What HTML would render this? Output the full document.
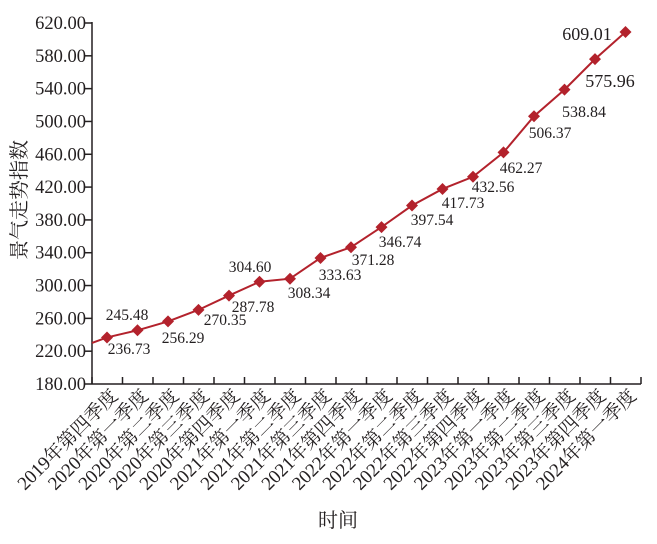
<!DOCTYPE html>
<html><head><meta charset="utf-8"><style>
html,body{margin:0;padding:0;background:#fff;}
svg text{font-family:"Liberation Serif","Noto Serif CJK SC","Noto Sans CJK SC",serif;fill:#231f20;}
</style></head><body>
<svg width="657" height="539" viewBox="0 0 657 539" xmlns="http://www.w3.org/2000/svg">
<g id="axes" stroke="#231f20" stroke-width="1.5" fill="none">
<line x1="92" y1="22" x2="92" y2="384"/>
<line x1="92" y1="384" x2="641" y2="384"/>
</g>
<g id="yt"></g>
<g id="xt"></g>
<g id="series"></g>
<g id="labels" font-size="15"></g>
<text x="0" y="0" font-size="20" text-anchor="middle" transform="translate(26,200) rotate(-90)">景气走势指数</text>
<text x="338" y="527" font-size="20" text-anchor="middle">时间</text>
<script>
var ns="http://www.w3.org/2000/svg";
function el(p,t,a,txt){var e=document.createElementNS(ns,t);for(var k in a)e.setAttribute(k,a[k]);if(txt!==undefined)e.textContent=txt;p.appendChild(e);return e;}
var Y=function(v){return 384-(v-180)*361/440;};
var yt=document.getElementById('yt');
for(var v=180;v<=620;v+=40){var y=Y(v);el(yt,'line',{x1:85,y1:y,x2:92,y2:y,stroke:'#231f20','stroke-width':1.5});
el(yt,'text',{x:86,y:y+6,'font-size':18.5,'text-anchor':'end'},v.toFixed(2));}
var cats=["2019年第四季度","2020年第一季度","2020年第二季度","2020年第三季度","2020年第四季度","2021年第一季度","2021年第二季度","2021年第三季度","2021年第四季度","2022年第一季度","2022年第二季度","2022年第三季度","2022年第四季度","2023年第一季度","2023年第二季度","2023年第三季度","2023年第四季度","2024年第一季度"];
var vals=[236.73,245.48,256.29,270.35,287.78,304.60,308.34,333.63,346.74,371.28,397.54,417.73,432.56,462.27,506.37,538.84,575.96,609.01];
var xt=document.getElementById('xt');
var X=function(i){return 107+i*30.5;};
for(var i=0;i<=18;i++){var x=92+i*30.5;el(xt,'line',{x1:x,y1:377,x2:x,y2:384,stroke:'#231f20','stroke-width':1.5});}
for(var i=0;i<18;i++){el(xt,'text',{x:0,y:0,'font-size':19,'text-anchor':'end',transform:'translate('+(X(i)+12)+',397) rotate(-45)'},cats[i]);}
var s=document.getElementById('series');
var pts="92,"+Y(230)+" ";for(var i=0;i<18;i++)pts+=X(i)+","+Y(vals[i])+" ";
el(s,'polyline',{points:pts,fill:'none',stroke:'#b3222c','stroke-width':2});
for(var i=0;i<18;i++){var x=X(i),y=Y(vals[i]);el(s,'polygon',{points:(x-6)+','+y+' '+x+','+(y-6)+' '+(x+6)+','+y+' '+x+','+(y+6),fill:'#b3222c'});}
var L=[["245.48",127,320,15.5],["236.73",129,354,15.5],["256.29",183,343,15.5],["270.35",225,325,15.5],["287.78",253,312,15.5],["304.60",250,272,15.5],["308.34",309,298,15.5],["333.63",340,280,15.5],["371.28",373,265,15.5],["346.74",400,247,15.5],["397.54",432,225,15.5],["417.73",463,208,15.5],["432.56",493,192,15.5],["462.27",521,173,15.5],["506.37",550,138,15.5],["538.84",584,117,16],["575.96",610,87,18],["609.01",587,40,18]];
var lg=document.getElementById('labels');
L.forEach(function(l){el(lg,'text',{x:l[1],y:l[2],'font-size':l[3],'text-anchor':'middle'},l[0]);});
</script>
</svg>
</body></html>
